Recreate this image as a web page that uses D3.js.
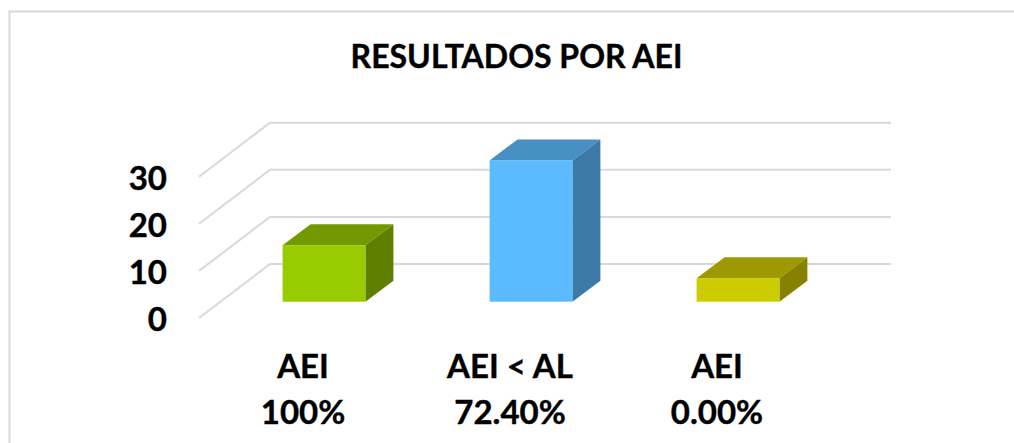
<!DOCTYPE html>
<html>
<head>
<meta charset="utf-8">
<script src="https://cdn.jsdelivr.net/npm/d3@7"></script>
<style>
  html, body { margin: 0; padding: 0; background: #fff; }
  svg { display: block; }
  text { font-family: Lato, "Open Sans", sans-serif; font-weight: 700; fill: #000; stroke: #000; stroke-width: 0.4px; }
</style>
</head>
<body>
<svg id="chart" width="1014" height="443"></svg>
<script>
const title = 'RESULTADOS POR AEI'
const categories = ['AEI', 'AEI < AL', 'AEI']
const subLabels = ['100%', '72.40%', '0.00%']
const values = [12, 30, 5]
const yTicks = [0, 10, 20, 30]
const frontColors = ['#99cc00', '#5cbbff', '#cccc00']
const topColors = ['#739900', '#488fc4', '#9e9900']
const sideColors = ['#5f7f00', '#3d79a6', '#868200']

const svg = d3.select('#chart')

// wall and floor depth of the 3d box
const depth = { x: 71, y: -54 }
// bars sit part way into the box
const barOffset = { x: 21.5, y: -16.3 }
const barDepth = { x: 28, y: -21 }

const y = d3.scaleLinear().domain([0, 30]).range([318, 176.7])
const x = d3.scaleBand().domain(d3.range(categories.length)).range([199, 820]).paddingInner(0.6).paddingOuter(0.3)

// chart frame
svg.append('rect')
  .attr('x', 9.5).attr('y', 11.5)
  .attr('width', 1100).attr('height', 600)
  .attr('fill', '#fff')
  .attr('stroke', '#d9d9d9')
  .attr('stroke-width', 2)

svg.append('text')
  .attr('x', 516.5).attr('y', 68)
  .attr('text-anchor', 'middle')
  .style('font-size', '32px')
  .text(title)

// gridlines, along the side wall then the back wall
svg.append('g').selectAll('path')
  .data(yTicks)
  .join('path')
  .attr('fill', 'none')
  .attr('stroke', '#d9d9d9')
  .attr('stroke-width', 2)
  .attr('d', d => {
    const p = d3.path()
    p.moveTo(x.range()[0], y(d))
    p.lineTo(x.range()[0] + depth.x, y(d) + depth.y)
    p.lineTo(x.range()[1] + depth.x, y(d) + depth.y)
    return p.toString()
  })

// y axis
const yAxis = d3.axisLeft(y).tickValues(yTicks).tickSize(0).tickPadding(32)
const axisG = svg.append('g').attr('transform', `translate(${x.range()[0]},2)`).call(yAxis)
axisG.select('.domain').remove()
axisG.selectAll('text').style('font-size', '33px').attr('fill', '#000')

const poly = pts => 'M' + pts.map(p => p.join(',')).join('L') + 'Z'

const bars = svg.append('g').selectAll('g')
  .data(values)
  .join('g')

const corners = (d, i) => {
  const x0 = x(i) + barOffset.x
  const x1 = x0 + x.bandwidth()
  const y0 = y(0) + barOffset.y
  const y1 = y(d) + barOffset.y
  return { x0, x1, y0, y1 }
}

// top face
bars.append('path')
  .attr('fill', (d, i) => topColors[i])
  .attr('d', (d, i) => {
    const c = corners(d, i)
    return poly([[c.x0, c.y1], [c.x1, c.y1], [c.x1 + barDepth.x, c.y1 + barDepth.y], [c.x0 + barDepth.x, c.y1 + barDepth.y]])
  })

// side face
bars.append('path')
  .attr('fill', (d, i) => sideColors[i])
  .attr('d', (d, i) => {
    const c = corners(d, i)
    return poly([[c.x1, c.y1], [c.x1 + barDepth.x, c.y1 + barDepth.y], [c.x1 + barDepth.x, c.y0 + barDepth.y], [c.x1, c.y0]])
  })

// front face
bars.append('rect')
  .attr('fill', (d, i) => frontColors[i])
  .attr('x', (d, i) => corners(d, i).x0)
  .attr('y', (d, i) => corners(d, i).y1)
  .attr('width', x.bandwidth())
  .attr('height', (d, i) => corners(d, i).y0 - corners(d, i).y1)

// category labels, two lines each
const labels = svg.append('g').selectAll('text')
  .data(categories)
  .join('text')
  .attr('text-anchor', 'middle')
  .style('font-size', '33px')

labels.append('tspan')
  .attr('x', (d, i) => x(i) + x.bandwidth() / 2 + barOffset.x - 21)
  .attr('y', 378)
  .text(d => d)

labels.append('tspan')
  .attr('x', (d, i) => x(i) + x.bandwidth() / 2 + barOffset.x - 21)
  .attr('y', 424)
  .text((d, i) => subLabels[i])
</script>
</body>
</html>
